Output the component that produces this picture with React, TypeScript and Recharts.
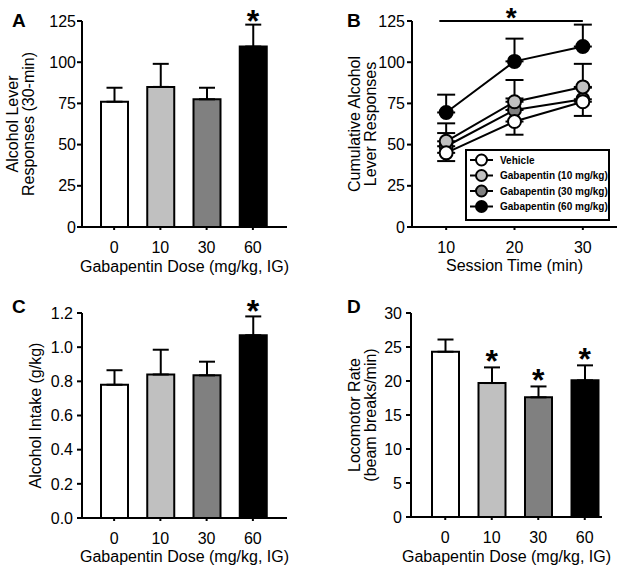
import React from 'react';
import {
  BarChart,
  Bar,
  LineChart,
  Line,
  XAxis,
  YAxis,
  ErrorBar,
  Cell,
  ReferenceLine,
  ReferenceDot,
} from 'recharts';

const FONT = '"Liberation Sans", Arial, sans-serif';

// Shared categories and fills
const doses = ['0', '10', '30', '60'];
const doseFills = ['#ffffff', '#c0c0c0', '#808080', '#000000'];

// Panel A: alcohol lever responses (30-min)
const leverMeans = [76, 85, 77.5, 109.5];
const leverSems = [8.5, 14, 7, 13.3];
const leverSig = [false, false, false, true];

// Panel C: alcohol intake (g/kg)
const intakeMeans = [0.78, 0.84, 0.835, 1.07];
const intakeSems = [0.085, 0.145, 0.08, 0.11];
const intakeSig = [false, false, false, true];

// Panel D: locomotor rate (beam breaks/min)
const locoMeans = [24.3, 19.7, 17.6, 20.1];
const locoSems = [1.8, 2.3, 1.6, 2.2];
const locoSig = [false, true, true, true];

// Panel B: cumulative responses over the session
const sessionTimes = [10, 20, 30];
const vehicleMeans = [45, 64, 76];
const vehicleSems = [5, 8, 8.6];
const gaba10Means = [52, 76, 85];
const gaba10Sems = [10.9, 13.2, 14];
const gaba30Means = [49, 71, 77.5];
const gaba30Sems = [8, 7, 7];
const gaba60Means = [69.5, 100.5, 109.5];
const gaba60Sems = [10.8, 13.8, 13.3];

const series = [
  { key: 'veh', name: 'Vehicle', fill: '#ffffff', means: vehicleMeans, sems: vehicleSems, down: true },
  { key: 'g10', name: 'Gabapentin (10 mg/kg)', fill: '#c0c0c0', means: gaba10Means, sems: gaba10Sems, down: false },
  { key: 'g30', name: 'Gabapentin (30 mg/kg)', fill: '#808080', means: gaba30Means, sems: gaba30Sems, down: false },
  { key: 'g60', name: 'Gabapentin (60 mg/kg)', fill: '#000000', means: gaba60Means, sems: gaba60Sems, down: false },
];

const sessionRows = sessionTimes.map((t, i) => {
  const row: any = { t };
  series.forEach((s) => {
    row[s.key] = s.means[i];
    row[s.key + 'Err'] = s.down ? [s.sems[i], 0] : [0, s.sems[i]];
  });
  return row;
});

const axisLine = { stroke: '#000', strokeWidth: 2 };
const tickStyle = { fill: '#000', fontSize: 16, fontFamily: FONT };

const YTitle = ({ viewBox, lines, xs }: any) => {
  const cy = viewBox.y + viewBox.height / 2;
  return (
    <g>
      {lines.map((txt: string, i: number) => (
        <text
          key={i}
          x={xs[i]}
          y={cy}
          transform={`rotate(-90 ${xs[i]} ${cy})`}
          textAnchor="middle"
          dominantBaseline="central"
          fontSize={16}
          fontFamily={FONT}
          fill="#000"
        >
          {txt}
        </text>
      ))}
    </g>
  );
};

const XTitle = ({ viewBox, text, baseline }: any) => (
  <text
    x={viewBox.x + viewBox.width / 2}
    y={baseline}
    textAnchor="middle"
    fontSize={16}
    fontFamily={FONT}
    fill="#000"
  >
    {text}
  </text>
);

// asterisk: baseline sits `lift` px below the anchor point
const Star = ({ viewBox, lift = 7, size = 32 }: any) => (
  <text
    x={viewBox.x + viewBox.width / 2}
    y={viewBox.y + viewBox.height / 2 + lift}
    textAnchor="middle"
    fontSize={size}
    fontWeight="bold"
    fontFamily={FONT}
    fill="#000"
  >
    *
  </text>
);

const PanelLetter = ({ letter, x, y }: any) => (
  <text x={x} y={y} fontSize={19} fontWeight="bold" fontFamily={FONT} fill="#000">
    {letter}
  </text>
);

const DosePanel = ({
  letter, letterX, means, sems, sig, domain, ticks, fmt, yLines, yLineXs,
  top, right, xAxisHeight, yAxisWidth, padL, padR, yTickMargin, xBaseline, starLift,
}: any) => {
  const rows = doses.map((d, i) => ({ dose: d, mean: means[i], err: [0, sems[i]] }));
  return (
    <BarChart width={312} height={286} data={rows} margin={{ top, right, bottom: 0, left: 0 }}>
      <PanelLetter letter={letter} x={letterX} y={27} />
      <XAxis
        dataKey="dose"
        interval={0}
        height={xAxisHeight}
        padding={{ left: padL, right: padR }}
        axisLine={axisLine}
        tickLine={axisLine}
        tickSize={3}
        tickMargin={12}
        tick={tickStyle}
        label={<XTitle text="Gabapentin Dose (mg/kg, IG)" baseline={xBaseline} />}
      />
      <YAxis
        type="number"
        domain={domain}
        ticks={ticks}
        interval={0}
        width={yAxisWidth}
        axisLine={axisLine}
        tickLine={axisLine}
        tickSize={5}
        tickMargin={yTickMargin}
        tick={tickStyle}
        tickFormatter={fmt}
        label={<YTitle lines={yLines} xs={yLineXs} />}
      />
      <Bar dataKey="mean" barSize={27} stroke="#000" strokeWidth={2} isAnimationActive={false}>
        {rows.map((r, i) => (
          <Cell key={r.dose} fill={doseFills[i]} />
        ))}
        <ErrorBar dataKey="err" width={8} stroke="#000" strokeWidth={2} direction="y" />
      </Bar>
      {rows.map((r, i) =>
        sig[i] ? (
          <ReferenceDot
            key={'s' + r.dose}
            x={r.dose}
            y={r.mean + r.err[1]}
            r={1}
            fill="none"
            stroke="none"
            label={<Star lift={starLift} />}
          />
        ) : null
      )}
    </BarChart>
  );
};

const LegendBox = () => (
  <svg width={145} height={72} style={{ position: 'absolute', left: 153, top: 149 }}>
    <rect x={1} y={1} width={143} height={70} fill="#fff" stroke="#000" strokeWidth={2} />
    {series.map((s, i) => {
      const cy = 11 + i * 15.5;
      return (
        <g key={s.key}>
          <line x1={5} x2={28} y1={cy} y2={cy} stroke="#000" strokeWidth={2} />
          <circle cx={16.5} cy={cy} r={5.5} fill={s.fill} stroke="#000" strokeWidth={2} />
          <text x={35} y={cy} dominantBaseline="central" fontSize={10} fontWeight="bold" fontFamily={FONT} fill="#000">
            {s.name}
          </text>
        </g>
      );
    })}
  </svg>
);

const SessionPanel = () => (
  <div style={{ position: 'relative', width: 312, height: 286 }}>
    <LineChart width={312} height={286} data={sessionRows} margin={{ top: 21, right: 7, bottom: 0, left: 0 }}>
      <PanelLetter letter="B" x={35} y={27} />
      <XAxis
        dataKey="t"
        type="number"
        domain={[5, 35]}
        ticks={sessionTimes}
        interval={0}
        height={59}
        axisLine={axisLine}
        tickLine={axisLine}
        tickSize={3}
        tickMargin={12}
        tick={tickStyle}
        label={<XTitle text="Session Time (min)" baseline={271} />}
      />
      <YAxis
        type="number"
        domain={[0, 125]}
        ticks={[0, 25, 50, 75, 100, 125]}
        interval={0}
        width={100}
        axisLine={axisLine}
        tickLine={axisLine}
        tickSize={5}
        tickMargin={2}
        tick={tickStyle}
        label={<YTitle lines={['Cumulative Alcohol', 'Lever Responses']} xs={[42, 58]} />}
      />
      <ReferenceLine
        segment={[{ x: 9, y: 125 }, { x: 30, y: 125 }]}
        stroke="#000"
        strokeWidth={2}
        label={<Star lift={6} size={28} />}
      />
      {[...series].reverse().map((s) => (
        <Line
          key={s.key}
          dataKey={s.key}
          name={s.name}
          stroke="#000"
          strokeWidth={2}
          dot={{ r: 6.5, fill: s.fill, stroke: '#000', strokeWidth: 2 }}
          isAnimationActive={false}
        >
          <ErrorBar dataKey={s.key + 'Err'} width={9} stroke="#000" strokeWidth={2} direction="y" />
        </Line>
      ))}
    </LineChart>
    <LegendBox />
  </div>
);

export default function App() {
  return (
    <div style={{ position: 'absolute', left: 0, top: 0, width: 624, height: 572, background: '#fff', display: 'flex', flexWrap: 'wrap' }}>
      <DosePanel
        letter="A" letterX={12}
        means={leverMeans} sems={leverSems} sig={leverSig}
        domain={[0, 125]} ticks={[0, 25, 50, 75, 100, 125]} fmt={(v: number) => String(v)}
        yLines={['Alcohol Lever', 'Responses (30-min)']} yLineXs={[12, 28]}
        top={21} right={25} xAxisHeight={59} yAxisWidth={82} padL={9} padR={11}
        yTickMargin={1} xBaseline={272} starLift={7}
      />
      <SessionPanel />
      <DosePanel
        letter="C" letterX={12}
        means={intakeMeans} sems={intakeSems} sig={intakeSig}
        domain={[0, 1.2]} ticks={[0, 0.2, 0.4, 0.6, 0.8, 1.0, 1.2]} fmt={(v: number) => v.toFixed(1)}
        yLines={['Alcohol Intake (g/kg)']} yLineXs={[35]}
        top={27} right={25} xAxisHeight={54} yAxisWidth={82} padL={9} padR={11}
        yTickMargin={4} xBaseline={276} starLift={6}
      />
      <DosePanel
        letter="D" letterX={35}
        means={locoMeans} sems={locoSems} sig={locoSig}
        domain={[0, 30]} ticks={[0, 5, 10, 15, 20, 25, 30]} fmt={(v: number) => String(v)}
        yLines={['Locomotor Rate', '(beam breaks/min)']} yLineXs={[42, 58]}
        top={27} right={22} xAxisHeight={55} yAxisWidth={99} padL={11} padR={-6}
        yTickMargin={4} xBaseline={276} starLift={5}
      />
    </div>
  );
}
